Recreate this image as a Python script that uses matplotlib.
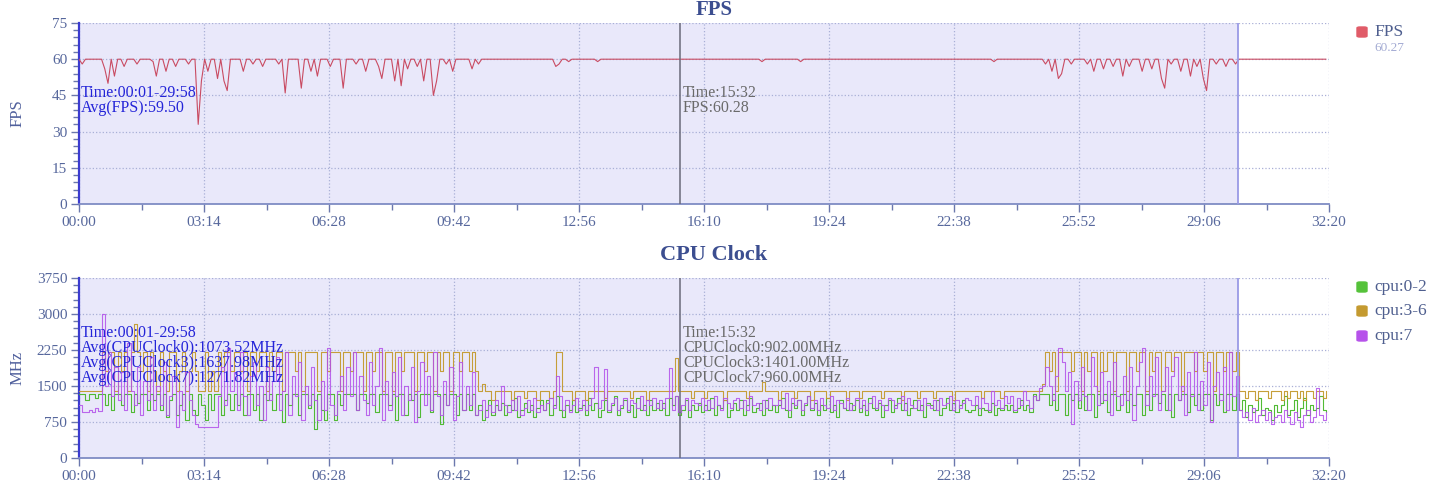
import numpy as np
import matplotlib
matplotlib.use('Agg')
import matplotlib.pyplot as plt
from matplotlib.patches import FancyBboxPatch
from matplotlib.ticker import MultipleLocator, FuncFormatter

plt.rcParams['font.family'] = ['Liberation Serif', 'DejaVu Serif']

# one sample every 5 s (one row = one minute)
step = 5
fps = [
    60,58,60,60,60,60,60,60,56,50,60,53,
    60,60,57,60,60,60,58,60,60,60,60,59,
    53,60,60,55,60,60,57,60,60,60,58,60,
    60,33,51,60,55,60,60,52,60,51,47,60,
    60,60,60,55,60,60,58,60,60,57,60,60,
    60,60,58,60,46,60,60,60,60,48,60,60,
    55,60,53,60,60,60,57,60,60,60,48,60,
    60,60,58,60,60,55,60,60,60,57,52,60,
    60,60,51,60,49,60,56,60,60,57,60,51,
    60,60,45,51,60,60,58,60,55,60,60,60,
    60,60,56,60,58,60,60,60,60,60,60,60,
    60,60,60,60,60,60,60,60,60,60,60,60,
    60,60,60,60,57,58,60,60,59,60,60,60,
    60,60,60,60,60,59,60,60,60,60,60,60,
    60,60,60,60,60,60,60,60,60,60,60,60,
    60,60,60,60,60,60,60,60,60,60,60,60,
    60,60,60,60,60,60,60,60,60,60,60,60,
    60,60,60,60,60,60,60,60,59,60,60,60,
    60,60,60,60,60,60,60,60,59,60,60,60,
    60,60,60,60,60,60,60,60,60,60,60,60,
    60,60,60,60,60,60,60,60,60,60,60,60,
    60,60,60,60,60,60,60,60,60,60,60,60,
    60,60,60,60,60,60,60,60,60,60,60,60,
    60,60,60,60,60,60,60,60,59,60,60,60,
    60,60,60,60,60,60,60,60,60,60,60,60,
    58,60,55,60,52,54,60,60,58,60,60,60,
    60,58,60,55,60,60,56,60,60,57,60,60,
    53,60,57,60,60,60,55,60,60,56,60,60,
    52,48,60,58,60,60,55,60,60,53,60,57,
    60,52,47,60,60,58,60,60,57,60,60,58,
    60,60,60,60,60,60,60,60,60,60,60,60,
    60,60,60,60,60,60,60,60,60,60,60,60,
    60,60,60,60,
]

cpu_0_2 = [
    1332,1332,1200,1332,1332,1250,1332,1332,1100,1332,1000,1332,
    1332,1100,1332,1332,950,1332,1150,1332,1332,1000,1332,1200,
    1332,1000,1332,850,1200,1332,900,1100,1332,800,1332,1000,
    900,1332,1100,800,1332,1000,1332,1332,900,1200,1332,1000,
    1332,1100,1332,900,1332,1332,1000,1332,800,1332,1200,1332,
    1000,1332,1332,750,1332,1100,1332,1332,900,1332,1332,1050,
    1332,600,1332,1000,800,1332,1332,800,1332,1100,1332,1332,
    1332,1332,1000,1332,1332,1150,1332,1332,950,1332,1332,1332,
    1100,1332,800,1332,1332,900,1332,1200,1332,850,1332,1332,
    1332,950,1332,1332,700,1332,1100,1332,1332,900,1332,1000,
    1332,1000,1332,900,1100,800,1000,1200,900,1100,1000,1150,
    900,1100,1000,1250,850,1000,1150,950,1100,850,1050,1200,
    1000,1200,900,1100,1300,1000,850,1100,1000,1200,950,1050,
    1100,900,1250,1000,1150,850,1000,1200,950,1100,1300,900,
    1050,1200,950,1100,850,1250,1000,1100,900,1200,1000,1150,
    1000,1150,900,1250,1100,1300,902,1000,1200,850,1100,1000,
    1150,950,1100,1000,1250,900,1100,1050,1200,850,1000,1150,
    1000,1200,900,1100,1250,950,1050,1150,900,1200,1000,1100,
    950,1100,1250,1000,850,1150,1050,1200,900,1100,1300,1000,
    1150,900,1100,1000,1250,950,1100,850,1200,1050,1000,1150,
    1000,1200,950,1100,900,1250,1050,1000,1150,850,1100,1200,
    950,1100,1250,1000,1150,900,1050,1200,1000,1100,850,1150,
    1100,1000,1200,900,1050,1250,1000,1150,950,1100,1200,1000,
    950,1000,1100,900,1050,1000,950,1150,900,1050,1000,1100,
    1000,1100,950,1050,1200,1000,1100,950,1332,1200,1332,1332,
    1332,1100,1332,1000,1332,1332,900,1332,1200,1332,1050,1332,
    1000,1332,1332,850,1332,1150,1332,950,1332,1332,1000,1332,
    1332,950,1332,1100,1332,1332,900,1332,1000,1332,1332,1150,
    1332,1000,1332,850,1332,1200,1332,1332,950,1332,1100,1332,
    1000,1332,1332,800,1332,1100,1332,950,1332,1332,1000,1332,
    1000,1200,850,1100,950,1000,1250,900,1050,1000,800,1100,
    950,1100,1300,900,1000,1200,850,1050,1250,900,1100,1000,
    1050,1300,1000,950,
]

cpu_3_6 = [
    1401,1401,1401,1401,1401,1401,1401,2208,1804,2208,2208,1401,
    2208,1804,2208,1401,2208,2800,2208,1804,2208,1401,2208,1804,
    1401,2208,1804,1401,2208,2208,1401,1804,2208,1401,1804,2208,
    1804,1401,1401,2208,1401,1804,1401,2208,1804,2208,2208,1804,
    2208,2208,1804,2208,1401,2208,2208,1804,2208,2208,1401,2208,
    1804,2208,2208,1401,2208,2208,2208,1804,2208,1401,2208,2208,
    2208,2208,1401,2208,2208,1804,2208,2208,2208,1401,2208,2208,
    1804,2208,2208,2208,1401,2208,2208,1804,2208,2208,1401,2208,
    2208,1401,2208,2208,1804,2208,2208,2208,1401,2208,2208,1804,
    2208,2208,1401,2208,1804,2208,2208,1401,2208,2208,1804,2208,
    2208,1804,2208,1804,1401,1550,1401,1401,1200,1401,1401,1401,
    1401,1401,1200,1401,1401,1401,1250,1401,1401,1401,1200,1401,
    1401,1401,1250,1401,2208,2208,1401,1401,1401,1200,1401,1401,
    1401,1200,1401,1401,1401,1401,1401,1250,1401,1401,1401,1401,
    1401,1401,1401,1250,1401,1401,1401,1401,1200,1401,1401,1401,
    1401,1401,1401,1401,1401,2080,1401,1401,1401,1401,1250,1401,
    1401,1401,1250,1401,1401,1401,1401,1401,1200,1401,1401,1401,
    1401,1401,1401,1250,1401,1401,1401,1401,1583,1401,1401,1401,
    1401,1200,1401,1401,1401,1401,1250,1401,1401,1401,1401,1200,
    1401,1401,1401,1401,1250,1401,1401,1401,1401,1401,1200,1401,
    1401,1401,1250,1401,1401,1401,1401,1401,1401,1250,1401,1401,
    1401,1401,1401,1200,1401,1401,1401,1401,1250,1401,1401,1401,
    1401,1250,1401,1401,1401,1401,1401,1200,1401,1401,1401,1401,
    1401,1401,1401,1401,1250,1401,1401,1401,1401,1401,1250,1401,
    1401,1401,1401,1401,1401,1401,1401,1401,1401,1401,1401,1550,
    2208,1804,2208,1401,2208,2208,2208,2208,1804,2208,2208,1401,
    2208,1804,2208,2208,1401,2208,1804,2208,2208,1401,2208,2208,
    2208,1401,2208,2208,1804,2208,2208,1401,2208,1804,2208,2208,
    1401,2208,2208,1804,2208,2208,1401,2208,2208,2208,1804,2208,
    2208,1804,2208,2208,1401,2208,2208,1804,2208,2208,1804,2208,
    1401,1401,1250,1401,1401,1200,1401,1401,1401,1250,1401,1401,
    1401,1200,1401,1250,1401,1401,1250,1401,1200,1401,1401,1250,
    1401,1401,1250,1401,
]

cpu_7 = [
    1100,950,950,1000,950,1050,980,3000,1500,2200,1300,1900,
    1200,1800,1000,2400,1400,1100,1900,900,1600,1200,2100,1000,
    1500,1100,2000,900,1300,1700,650,1400,1000,1800,1200,900,
    700,650,650,650,650,650,650,1300,1900,1100,2300,1400,
    1800,1000,2200,1300,900,1700,2000,1100,1500,800,1900,1200,
    1600,2100,1000,1400,2200,900,1700,1300,2000,800,1500,1100,
    1900,1200,800,1600,1000,2300,1100,900,1400,1700,1000,1900,
    1300,2200,1000,1700,1200,900,2000,1100,1500,2300,800,1600,
    1000,1800,1300,2100,900,1500,1200,1900,750,1400,2000,1100,
    1700,1000,2200,1300,900,1600,1100,1900,800,1300,2000,1000,
    1500,1100,1800,900,1000,1200,850,1100,950,1200,1000,1500,
    1100,950,1200,1000,1300,900,1050,1200,1000,1250,950,1100,
    1000,1150,1250,1050,1700,1300,1000,1200,950,1100,1250,1000,
    1200,1000,1100,1250,1900,1050,1200,1850,1000,1150,1250,1000,
    1100,1250,1000,1200,1150,1050,1300,1000,1200,1100,1250,1050,
    1200,1050,1250,1875,1000,1300,960,1100,1250,1000,1200,1150,
    1100,1250,1000,1200,1050,1300,1100,1000,1250,1150,1050,1200,
    1250,1050,1200,1000,1300,1100,1150,1000,1200,1050,1250,1100,
    1100,1200,1050,1350,1000,1250,1100,1200,1000,1150,1300,1050,
    1200,1000,1250,1100,1050,1300,1000,1200,1150,1050,1250,1000,
    1100,1250,1050,1200,1000,1150,1300,1050,1200,1100,1000,1250,
    1200,1050,1150,1300,1000,1250,1100,1050,1200,1000,1250,1100,
    1050,1200,1000,1250,1100,1150,1300,1000,1200,1050,1150,1250,
    1200,1100,1300,1050,1250,1150,1000,1400,1100,1200,1050,1300,
    1150,1300,1000,1250,1100,1400,1200,1050,1300,1200,1450,1500,
    1900,1500,1200,1700,2300,2000,1400,1800,700,1600,1200,1900,
    1300,1000,2100,1500,1100,1800,1200,1600,900,2000,1300,1100,
    1700,1200,1900,800,1500,2000,2300,1100,1700,1300,2100,1000,
    1400,1900,1000,1700,2100,1200,1500,900,1800,1300,2200,1000,
    1600,1100,2000,750,1500,1800,1200,1900,1000,2200,1300,1700,
    1000,850,950,800,1050,750,900,1000,800,950,700,850,
    900,750,1000,850,700,950,800,650,900,1000,750,850,
    1450,900,800,950,
]

x_max = 1940          # 32:20
sel_end = 1798        # 29:58
cursor = 932          # 15:32

W, H = 1440, 483
fig = plt.figure(figsize=(W / 100, H / 100), dpi=100)

def fx(px):
    return px / W

def fy(py):
    return 1 - py / H

tick_col = '#6b78ad'
label_col = '#56679c'
grid_col = '#a9afd6'

ax1 = fig.add_axes([fx(79), fy(204), fx(1329) - fx(79), fy(23) - fy(204)])
ax2 = fig.add_axes([fx(79), fy(458), fx(1329) - fx(79), fy(278) - fy(458)])

def mmss(v, pos=None):
    v = int(round(v))
    return '%02d:%02d' % (v // 60, v % 60)

def style(ax, ymax, ymaj, ymin):
    ax.set_xlim(0, x_max)
    ax.set_ylim(0, ymax)
    ax.axvspan(0, sel_end, color='#e9e8fa', zorder=0, lw=0)
    ax.xaxis.set_major_locator(MultipleLocator(194))
    ax.xaxis.set_minor_locator(MultipleLocator(97))
    ax.xaxis.set_major_formatter(FuncFormatter(mmss))
    ax.yaxis.set_major_locator(MultipleLocator(ymaj))
    ax.yaxis.set_minor_locator(MultipleLocator(ymin))
    ax.grid(True, which='major', ls=':', lw=0.9, color=grid_col, zorder=1)
    ax.set_axisbelow(True)
    for s in ['top', 'right']:
        ax.spines[s].set_visible(False)
    ax.spines['left'].set_color('#3b3bd0')
    ax.spines['left'].set_linewidth(1.6)
    ax.spines['bottom'].set_color('#7f8cc4')
    ax.spines['bottom'].set_linewidth(1.3)
    ax.tick_params(which='both', direction='out', colors=tick_col,
                   labelcolor=label_col, labelsize=11)
    ax.tick_params(which='major', length=6, width=1, pad=2.5)
    ax.tick_params(which='minor', length=4, width=1)
    ax.axvline(sel_end, color='#9a9ae6', lw=1.3, zorder=4)
    ax.axvline(cursor, color='#6a6a7a', lw=1.1, zorder=4)

style(ax1, 75, 15, 3)
style(ax2, 3750, 750, 150)

t = np.arange(len(fps)) * step
ax1.plot(t, fps, color='#c94b62', lw=0.8, zorder=3)

ax2.plot(np.arange(len(cpu_0_2)) * step, cpu_0_2, color='#49b82a', lw=0.8,
         drawstyle='steps-post', zorder=3, alpha=0.95)
ax2.plot(np.arange(len(cpu_3_6)) * step, cpu_3_6, color='#c39a2e', lw=0.8,
         drawstyle='steps-post', zorder=3, alpha=0.95)
ax2.plot(np.arange(len(cpu_7)) * step, cpu_7, color='#b24fea', lw=0.8,
         drawstyle='steps-post', zorder=3, alpha=0.85)

fig.text(fx(18), fy(113), 'FPS', rotation=90, ha='center', va='center',
         color='#4f5f9c', fontsize=12)
fig.text(fx(18), fy(368), 'MHz', rotation=90, ha='center', va='center',
         color='#4f5f9c', fontsize=12)

fig.text(fx(714), fy(10), 'FPS', ha='center', va='center', fontsize=15,
         color='#3c4e90', fontweight='bold')
fig.text(fx(714), fy(255), 'CPU Clock', ha='center', va='center',
         fontsize=16, color='#3c4e90', fontweight='bold')

# info boxes
ann = dict(fontsize=11.5, va='center', ha='left')
left_top = ['Time:00:01-29:58', 'Avg(FPS):59.50']
cur_top = ['Time:15:32', 'FPS:60.28']
left_bot = ['Time:00:01-29:58', 'Avg(CPUClock0):1073.52MHz',
            'Avg(CPUClock3):1637.98MHz', 'Avg(CPUClock7):1271.82MHz']
cur_bot = ['Time:15:32', 'CPUClock0:902.00MHz', 'CPUClock3:1401.00MHz',
           'CPUClock7:960.00MHz']
for i, s in enumerate(left_top):
    fig.text(fx(81), fy(93 + 15 * i), s, color='#2424d8', **ann)
for i, s in enumerate(cur_top):
    fig.text(fx(683), fy(93 + 15 * i), s, color='#6a6a6a', **ann)
for i, s in enumerate(left_bot):
    fig.text(fx(81), fy(333 + 15 * i), s, color='#2424d8', **ann)
for i, s in enumerate(cur_bot):
    fig.text(fx(683), fy(333 + 15 * i), s, color='#6a6a6a', **ann)

# legends
def legend_item(py, color, label):
    fig.patches.append(FancyBboxPatch((fx(1357), fy(py + 5)), fx(10), fy(0) - fy(10),
                                      boxstyle='round,pad=0,rounding_size=0.002',
                                      transform=fig.transFigure, color=color,
                                      figure=fig))
    fig.text(fx(1374), fy(py), label, va='center', ha='left', fontsize=12.5,
             color='#4f5f8f')

legend_item(32, '#e05b68', 'FPS')
fig.text(fx(1374), fy(48), '60.27', va='center', ha='left', fontsize=9.5,
         color='#a3abd3')
legend_item(287, '#55c23a', 'cpu:0-2')
legend_item(311, '#c49a30', 'cpu:3-6')
legend_item(336, '#b652ea', 'cpu:7')

fig.savefig('out.png', dpi=100)
